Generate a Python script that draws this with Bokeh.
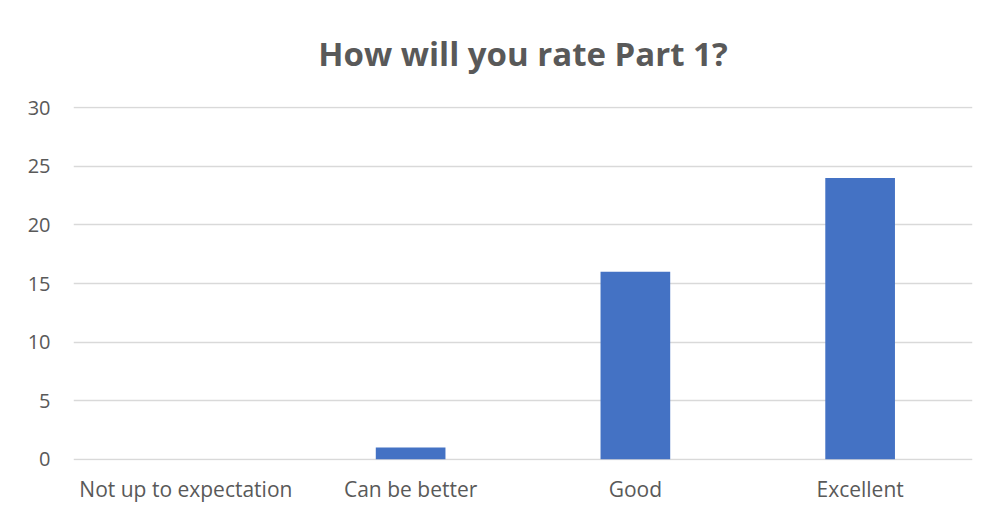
from bokeh.plotting import figure
from bokeh.models import ColumnDataSource, FixedTicker, Range1d
from bokeh.embed import file_html
from bokeh.resources import INLINE

categories = ["Not up to expectation", "Can be better", "Good", "Excellent"]
counts = [0, 1, 16, 24]
y_ticks = [0, 5, 10, 15, 20, 25, 30]
title_text = "How will you rate Part 1?"

source = ColumnDataSource(data=dict(cat=categories, val=counts))

p = figure(x_range=categories, y_range=Range1d(-0.1, 30.1),
           width=979, height=513, frame_width=899, frame_height=354,
           min_border_left=73, min_border_right=7, min_border_top=106, min_border_bottom=53,
           output_backend="svg", toolbar_location=None, title=title_text)

p.vbar(x="cat", top="val", width=0.31, source=source, color="#4472C4", line_color=None)

p.title.align = "center"
p.title.vertical_align = "top"
p.title.text_font = "Open Sans"
p.title.text_font_size = "33px"
p.title.text_font_style = "bold"
p.title.text_color = "#595959"
p.title.standoff = 58

p.outline_line_color = None
p.xgrid.grid_line_color = None
p.ygrid.grid_line_color = "#d9d9d9"
p.ygrid.grid_line_width = 1.5
p.yaxis.ticker = FixedTicker(ticks=y_ticks)

for ax in (p.xaxis[0], p.yaxis[0]):
    ax.axis_line_color = None
    ax.major_tick_line_color = None
    ax.minor_tick_line_color = None
    ax.major_label_text_font = "Open Sans"
    ax.major_label_text_color = "#595959"

p.yaxis.major_label_text_font_size = "20px"
p.xaxis.major_label_text_font_size = "21px"
p.yaxis.major_label_standoff = 17
p.xaxis.major_label_standoff = 8

open("out.html", "w").write(file_html(p, INLINE))
